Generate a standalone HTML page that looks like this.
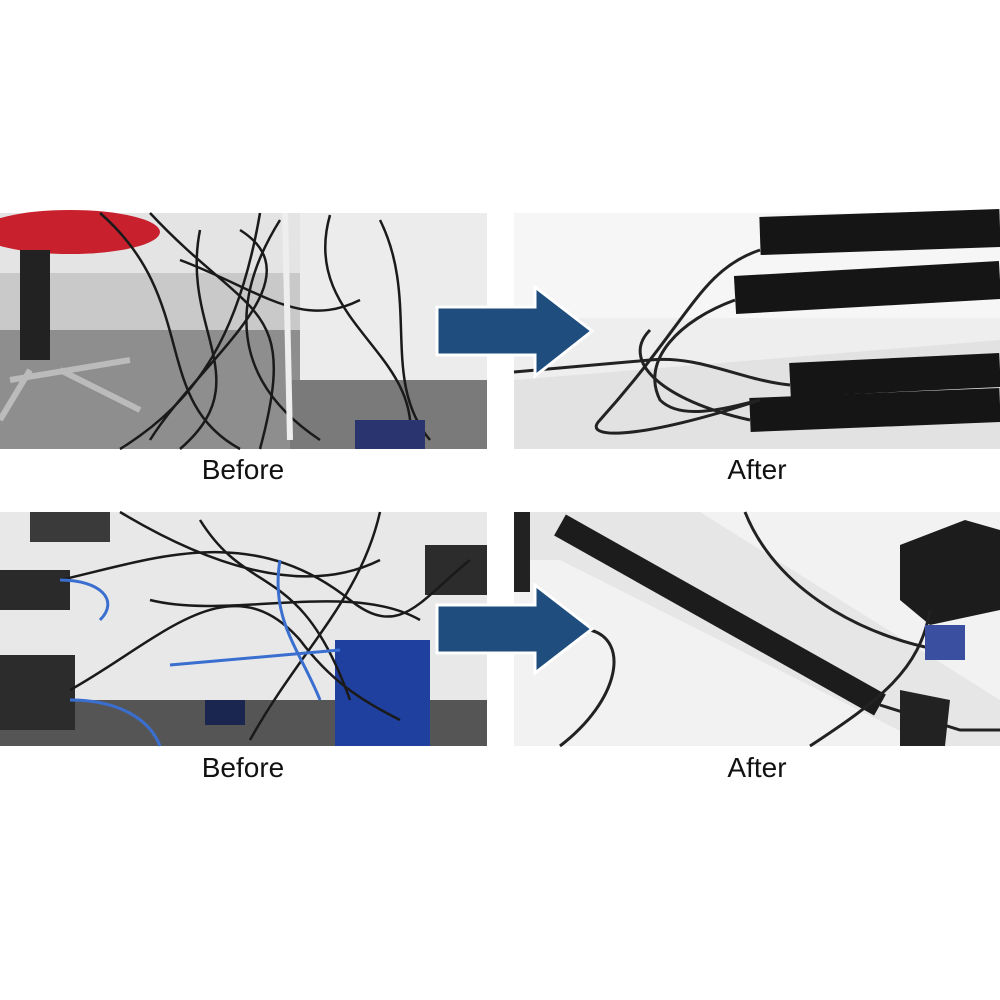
<!DOCTYPE html>
<html><head><style>
html,body{margin:0;padding:0;background:#fff;width:1000px;height:1000px;overflow:hidden}
.lbl{position:absolute;font-family:"Liberation Sans",Arial,sans-serif;font-size:28px;color:#111;transform:translateX(-50%)}
</style></head><body>
<svg width="1000" height="1000" style="position:absolute;left:0;top:0">
<!-- top-left photo -->
<rect x="0" y="213" width="487" height="236" fill="#c9c9c9"/>
<rect x="0" y="213" width="487" height="60" fill="#e4e4e4"/>
<rect x="300" y="213" width="187" height="236" fill="#ececec"/>
<rect x="0" y="330" width="300" height="119" fill="#8e8e8e"/>
<rect x="290" y="380" width="197" height="69" fill="#7a7a7a"/>
<ellipse cx="70" cy="232" rx="90" ry="22" fill="#c8202c"/>
<rect x="20" y="250" width="30" height="110" fill="#222"/>
<path d="M10 380 L130 360 M30 370 L0 420 M60 370 L140 410" stroke="#bbb" stroke-width="6" fill="none"/>
<g stroke="#1a1a1a" stroke-width="2.5" fill="none">
<path d="M100 213 C200 300 150 400 240 449"/><path d="M150 213 C250 320 300 300 260 449"/>
<path d="M200 230 C180 330 260 380 180 449"/><path d="M280 220 C230 300 230 380 320 440"/>
<path d="M240 230 C320 280 200 360 150 440"/><path d="M330 215 C300 320 420 350 410 440"/>
<path d="M180 260 C260 290 300 330 360 300"/><path d="M260 213 C240 330 200 400 120 449"/>
<path d="M380 220 C420 300 380 380 430 440"/>
</g>
<path d="M285 213 L290 440" stroke="#eee" stroke-width="6"/>
<rect x="355" y="420" width="70" height="29" fill="#2a3570"/>
<!-- top-right photo -->
<rect x="514" y="213" width="486" height="236" fill="#eeeeee"/>
<rect x="514" y="213" width="486" height="105" fill="#f6f6f6"/>
<path d="M514 380 L1000 340 L1000 449 L514 449Z" fill="#e2e2e2"/>
<g stroke="#151515" fill="none">
<path d="M760 236 L1000 228" stroke-width="38"/>
<path d="M735 295 L1000 280" stroke-width="38"/>
<path d="M790 380 L1000 370" stroke-width="34"/>
<path d="M750 415 L1000 405" stroke-width="34"/>
</g>
<g stroke="#222" stroke-width="3" fill="none">
<path d="M760 250 C700 270 690 320 600 420 C580 440 640 440 760 400"/>
<path d="M735 300 C680 320 640 360 660 400 C680 420 720 410 760 400"/>
<path d="M514 372 L650 360 C700 355 740 380 790 385"/>
<path d="M650 330 C620 360 660 400 750 420"/>
</g>
<!-- bottom-left photo -->
<rect x="0" y="512" width="487" height="234" fill="#e8e8e8"/>
<rect x="0" y="700" width="487" height="46" fill="#555"/>
<rect x="0" y="570" width="70" height="40" fill="#2a2a2a"/>
<rect x="0" y="655" width="75" height="75" fill="#2c2c2c"/>
<rect x="30" y="512" width="80" height="30" fill="#3a3a3a"/>
<rect x="425" y="545" width="62" height="50" fill="#2c2c2c"/>
<rect x="335" y="640" width="95" height="106" fill="#2040a0"/>
<rect x="205" y="700" width="40" height="25" fill="#1a2550"/>
<g stroke="#1a1a1a" stroke-width="2.5" fill="none">
<path d="M60 580 C150 560 250 520 350 600 C400 640 420 600 470 560"/>
<path d="M70 690 C160 640 230 560 300 640 C330 680 360 700 400 720"/>
<path d="M120 512 C200 560 300 600 380 560"/><path d="M200 520 C250 600 300 560 350 700"/>
<path d="M380 512 C360 600 300 650 250 740"/><path d="M150 600 C230 620 350 580 420 620"/>
</g>
<g stroke="#3a6fd0" stroke-width="3" fill="none">
<path d="M60 580 C100 580 120 600 100 620"/><path d="M170 665 L340 650"/>
<path d="M280 560 C270 620 300 650 320 700"/><path d="M70 700 C120 700 150 720 160 746"/>
</g>
<!-- bottom-right photo -->
<rect x="514" y="512" width="486" height="234" fill="#f2f2f2"/>
<path d="M514 512 L700 512 L1000 700 L1000 746 L930 746 L560 560 L514 560Z" fill="#e6e6e6"/>
<path d="M560 525 L880 705" stroke="#1c1c1c" stroke-width="24"/>
<rect x="514" y="512" width="16" height="80" fill="#222"/>
<path d="M900 545 L965 520 L1000 530 L1000 610 L930 625 L900 600Z" fill="#1c1c1c"/>
<g stroke="#222" stroke-width="3" fill="none">
<path d="M745 512 C780 600 880 640 940 650"/><path d="M590 630 C630 640 620 700 560 746"/>
<path d="M930 610 C920 670 880 700 810 746"/><path d="M880 705 L960 730 L1000 730"/>
</g>
<rect x="925" y="625" width="40" height="35" fill="#3a4fa0"/>
<path d="M900 690 L950 700 L945 746 L900 746Z" fill="#222"/>
<!-- arrows -->
<g fill="#1f4e7e" stroke="#fff" stroke-width="3">
<path d="M437 307 L535 307 L535 287 L592 331 L535 376 L535 355 L437 355Z"/>
<path d="M437 605 L535 605 L535 585 L592 629 L535 673 L535 653 L437 653Z"/>
</g>
</svg>
<div class="lbl" style="left:243px;top:454px">Before</div>
<div class="lbl" style="left:757px;top:454px">After</div>
<div class="lbl" style="left:243px;top:752px">Before</div>
<div class="lbl" style="left:757px;top:752px">After</div>
</body></html>
